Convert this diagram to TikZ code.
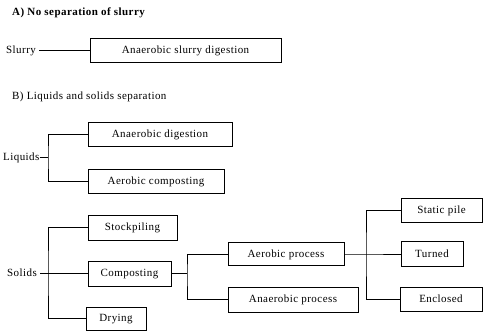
\documentclass[tikz,border=0pt]{standalone}
\usepackage{fontspec}
\setmainfont{Liberation Serif}[LetterSpace=4]

\begin{document}
\begin{tikzpicture}[x=1pt,y=-1pt,
box/.style={draw,line width=0.9pt,minimum height=24pt,inner sep=0pt,text height=1.6ex,text depth=0.2ex,font=\fontsize{11}{13}\selectfont},
lbl/.style={anchor=west,inner sep=0pt,text height=1.6ex,text depth=0.2ex,font=\fontsize{11}{13}\selectfont},
ttl/.style={anchor=west,inner sep=0pt,font=\fontsize{11}{13}\selectfont},
ln/.style={line width=0.9pt}]
\useasboundingbox (0,0) rectangle (484,333);
% A) no separation
\node[ttl] (ta) at (12,13) {\bfseries A) No separation of slurry};
\node[lbl] (slu) at (6,50) {Slurry};
\node[box,minimum width=191pt] (slbox) at (185.5,50) {Anaerobic slurry digestion};
\draw[ln] (slu.east)++(3,0) -- (slu.east -| slbox.west);
% B) liquids and solids
\node[ttl] (tb) at (12,97) {B) Liquids and solids separation};
\node[lbl] (liq) at (3,157) {Liquids};
\node[box,minimum width=144pt] (anad) at (160,134) {Anaerobic digestion};
\node[box,minimum width=136pt] (aeco) at (156,181) {Aerobic composting};
\coordinate (jl) at (48,157);
\draw[ln] (liq.east) -- (jl);
\draw[ln] (anad.west) -| (jl) |- (aeco.west);
% solids
\node[lbl] (sol) at (7,273.5) {Solids};
\node[box,minimum width=89pt,minimum height=25pt] (stock) at (132.5,227.5) {Stockpiling};
\node[box,minimum width=83pt,minimum height=25pt] (comp) at (129.5,273.5) {Composting};
\node[box,minimum width=60pt,minimum height=23pt] (dry) at (116,318.5) {Drying};
\coordinate (js) at (48,273.5);
\draw[ln] (sol.east)++(3,0) -- (comp.west);
\draw[ln] (stock.west) -| (js) |- (dry.west);
% composting branches
\node[box,minimum width=116pt,minimum height=23pt] (aerp) at (286,254) {Aerobic process};
\node[box,minimum width=130pt,minimum height=25pt] (anap) at (293,299.5) {Anaerobic process};
\coordinate (jc) at (187,273.5);
\draw[ln] (comp) -- (jc);
\draw[ln] (aerp.west) -| (jc) |- (anap.west);
% aerobic branches
\node[box,minimum width=81pt] (stat) at (441.5,210) {Static pile};
\node[box,minimum width=62pt,minimum height=25pt] (turn) at (432,254) {Turned};
\node[box,minimum width=82pt] (encl) at (441,299) {Enclosed};
\coordinate (ja) at (366,254);
\draw[ln] (aerp) -- (ja) -- (turn);
\draw[ln] (stat.west) -| (ja) |- (encl.west);
\end{tikzpicture}
\end{document}
